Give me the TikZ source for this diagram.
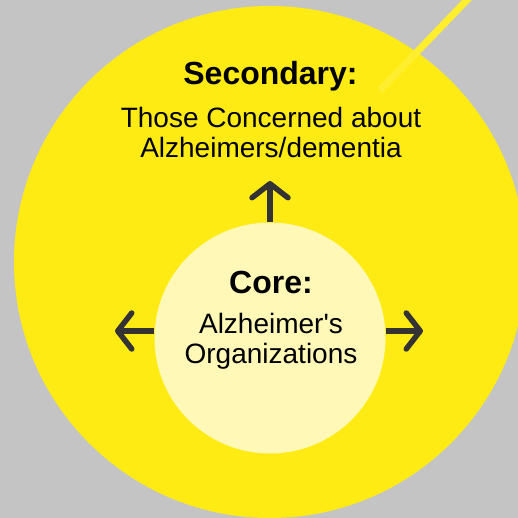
\documentclass[tikz,border=0pt]{standalone}
\usepackage{fontspec}
\setmainfont{Liberation Sans}[Ligatures=TeXOff]
\usetikzlibrary{arrows.meta}
\definecolor{bggray}{HTML}{C4C4C4}
\definecolor{ringyellow}{HTML}{FFEB14}
\definecolor{coreyellow}{HTML}{FFF8B6}
\definecolor{rayyellow}{HTML}{FFEE2E}
\definecolor{arrowdark}{HTML}{333333}
\tikzset{
  outward/.style={draw=arrowdark, line width=5.5pt,
    -{Straight Barb[length=14pt,width=36pt,round]}},
  heading/.style={anchor=base, font=\bfseries\fontsize{32}{34}\selectfont, text=black, inner sep=0pt},
  caption/.style={anchor=base, align=center, font=\fontsize{28}{30}\selectfont, text=black, inner sep=0pt},
}
\begin{document}
\begin{tikzpicture}[x=1pt,y=-1pt]
  % canvas
  \fill[bggray] (0,0) rectangle (518,518);
  \useasboundingbox (0,0) rectangle (518,518);
  \begin{scope}
    \clip (0,0) rectangle (518,518);
    % outer ring
    \node[circle, fill=ringyellow, minimum size=512pt, inner sep=0pt] (outer) at (270,262) {};
    % ray leaving the outer ring
    \coordinate (rayin) at (380,90.5);
    \coordinate (rayout) at (478,-11.5);
    \draw[rayyellow, line width=7pt] (rayin) -- (rayout);
    % core circle
    \node[circle, fill=coreyellow, minimum size=231pt, inner sep=0pt] (core) at (270,338) {};
  \end{scope}
  % arrows pointing outwards from the core
  \coordinate (uptip) at (270,181);
  \coordinate (lefttip) at (115,331);
  \coordinate (righttip) at (423,331);
  \draw[outward] (core.north) -- (uptip);
  \draw[outward] (core.west |- lefttip) -- (lefttip);
  \draw[outward] (core.east |- righttip) -- (righttip);
  % labels (two-line captions are anchored on their last baseline)
  \node[heading] (sechead) at (270.5,85) {Secondary:};
  \node[caption] (sectext) at (271,158) {Those Concerned about\\Alzheimers/dementia};
  \node[heading] (corehead) at (271,293) {Core:};
  \node[caption] (coretext) at (271,363) {Alzheimer's\\Organizations};
\end{tikzpicture}
\end{document}
